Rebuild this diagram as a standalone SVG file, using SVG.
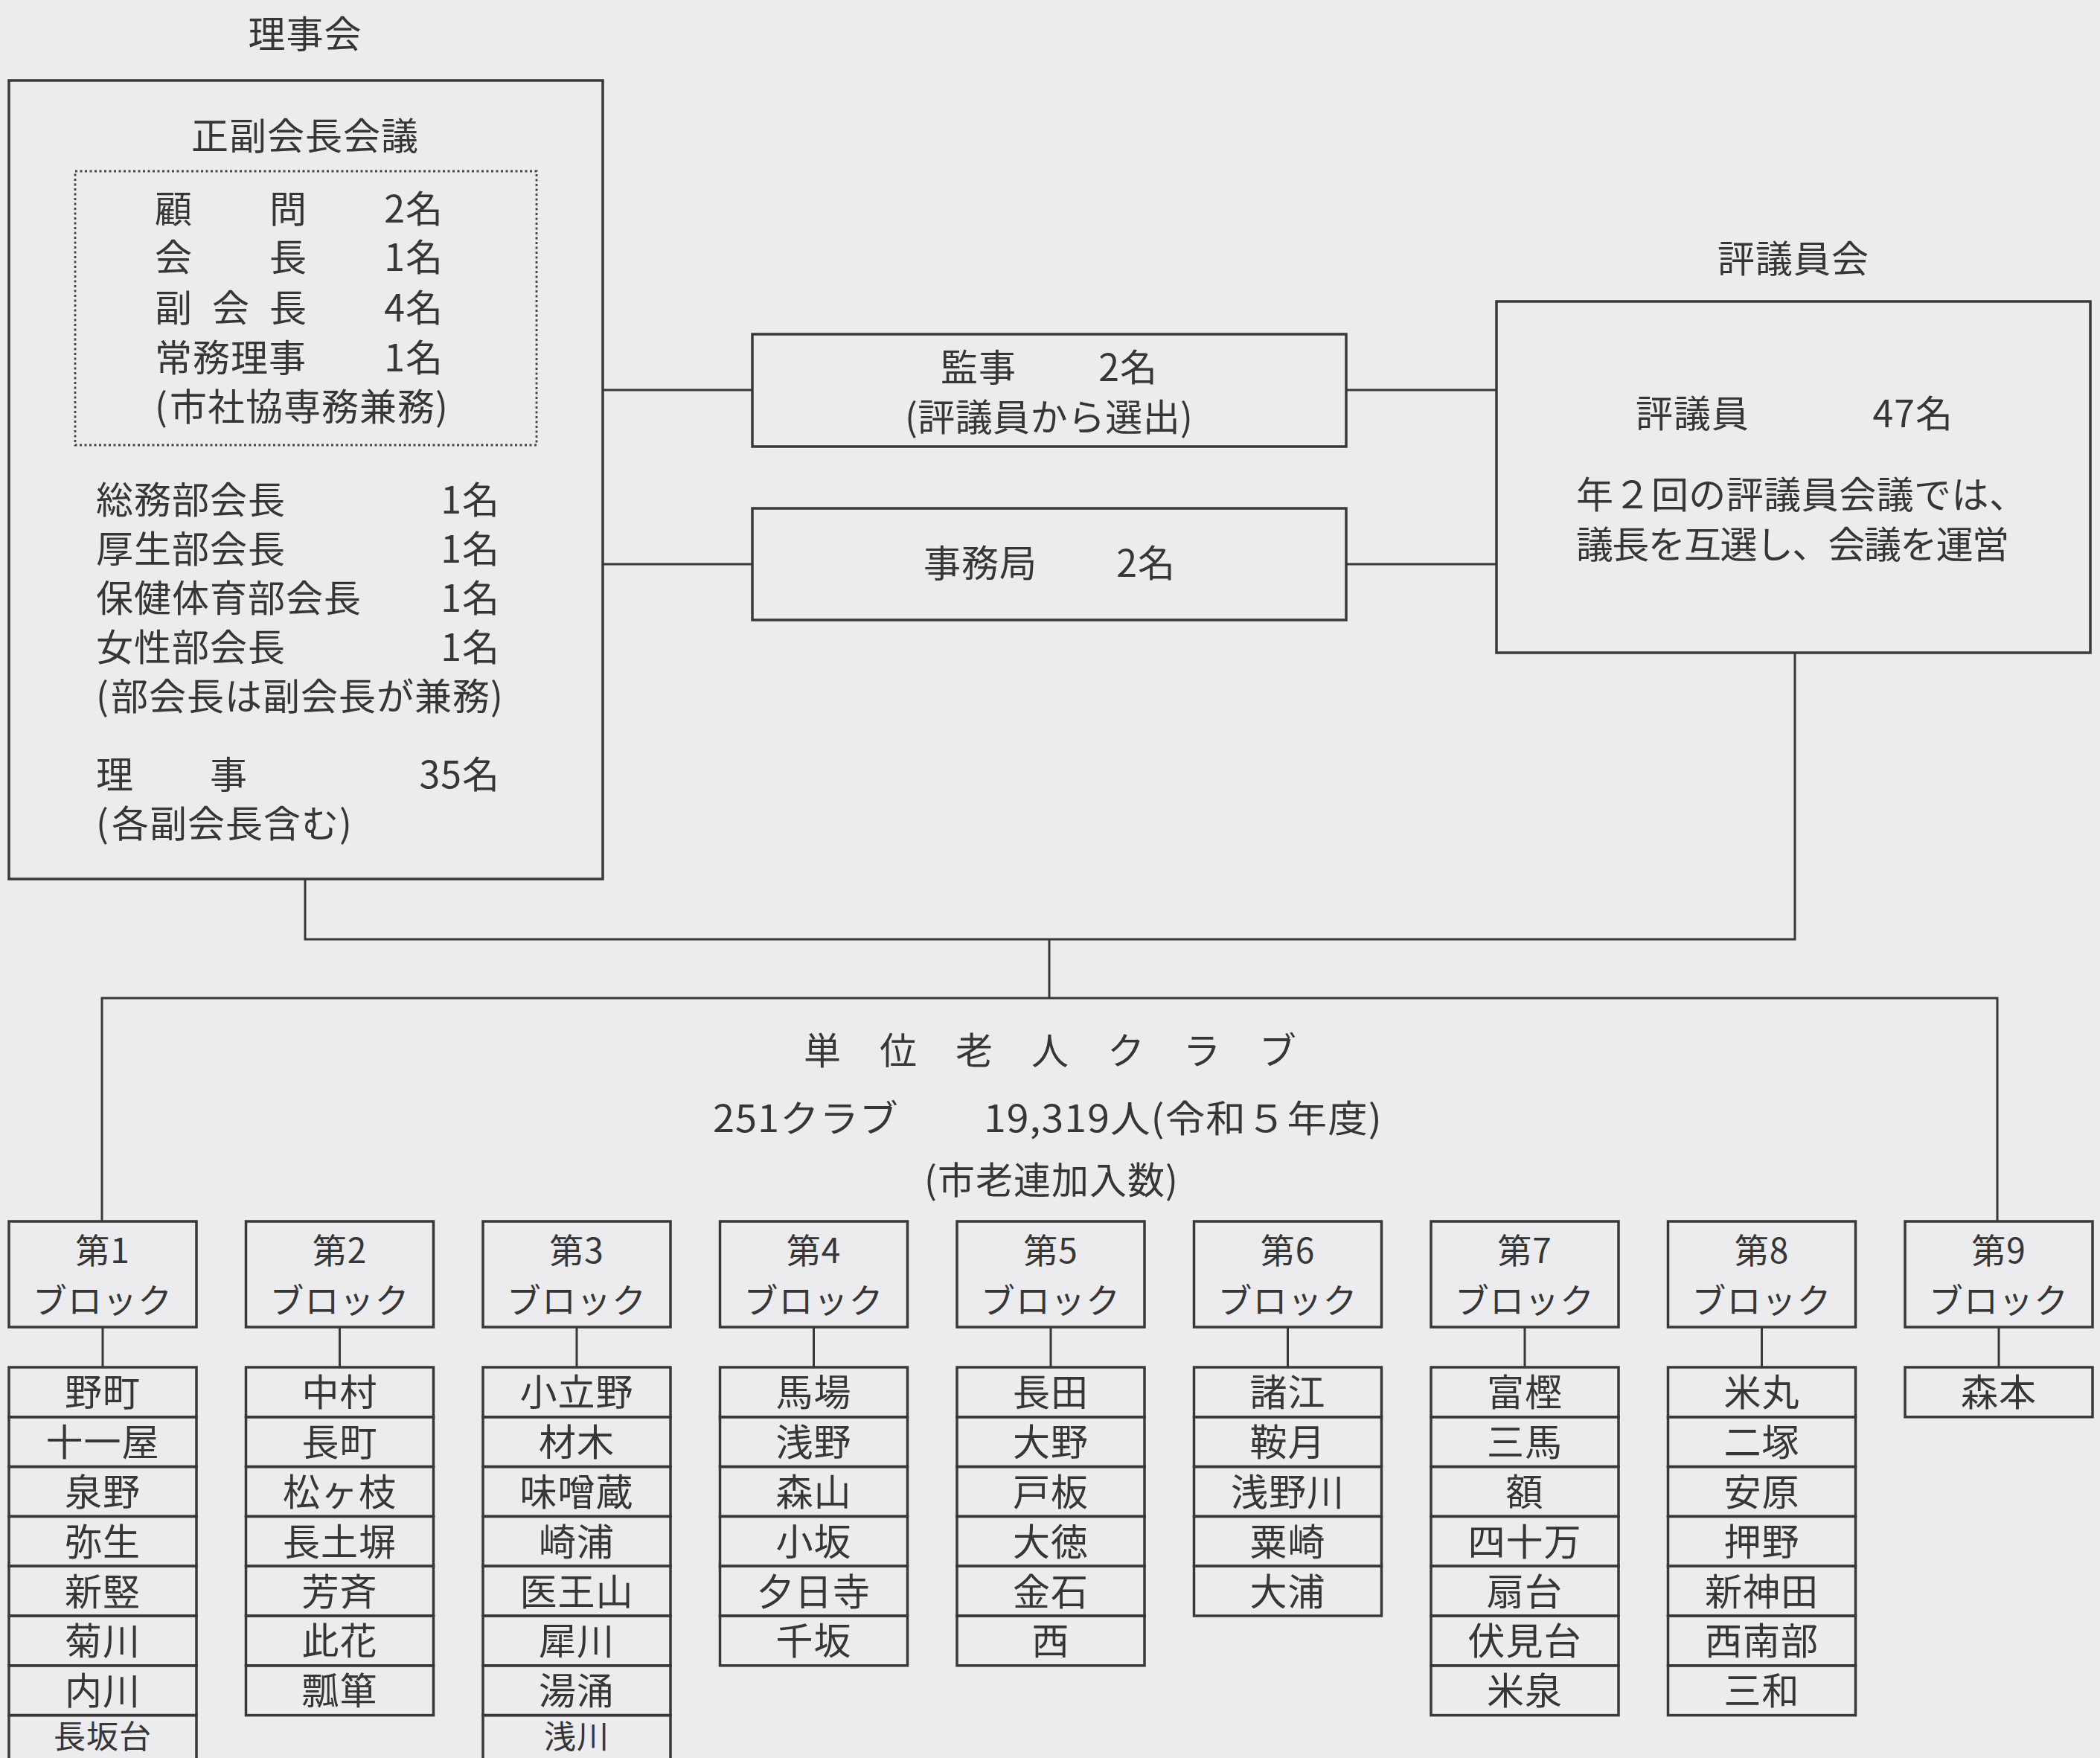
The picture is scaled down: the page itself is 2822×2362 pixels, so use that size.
<svg xmlns="http://www.w3.org/2000/svg" width="2822" height="2362" viewBox="0 0 2822 2362">
<style>
text{font-family:"Noto Sans CJK JP","Noto Sans",sans-serif;fill:#363636;font-size:50px;letter-spacing:1px}
.m{text-anchor:middle}
.e{text-anchor:end}
.bl{font-size:46px;text-anchor:middle}
.last{font-size:43px}
.b{fill:none;stroke:#383838;stroke-width:3.5}
.c{fill:none;stroke:#383838;stroke-width:3}
.d{fill:none;stroke:#444;stroke-width:2.8;stroke-dasharray:3 3.5}
</style>
<rect width="2822" height="2362" fill="#ececef"/>

<g id="connectors">
<path class="c" d="M810 524H1011M810 758H1011M1809 524H2011M1809 758H2011"/>
<path class="c" d="M410 1181V1262H2412V877M1410 1262V1341M137 1641V1341H2684V1641"/>
<path class="c" d="M138 1783V1837M456.5 1783V1837M775 1783V1837M1093.5 1783V1837M1412 1783V1837M1730.5 1783V1837M2049 1783V1837M2367.5 1783V1837M2686 1783V1837"/>
</g>

<g id="rijikai">
<text class="m" x="410" y="64">理事会</text>
<rect class="b" x="12" y="108" width="798" height="1073"/>
<text class="m" x="410" y="201">正副会長会議</text>
<rect class="d" x="101" y="230" width="620" height="368"/>
<text x="208" y="299">顧</text><text x="362" y="299">問</text><text class="e" x="596" y="299">2名</text>
<text x="208" y="364">会</text><text x="362" y="364">長</text><text class="e" x="596" y="364">1名</text>
<text x="208" y="432">副</text><text x="285" y="432">会</text><text x="362" y="432">長</text><text class="e" x="596" y="432">4名</text>
<text x="208" y="499">常務理事</text><text class="e" x="596" y="499">1名</text>
<text x="208" y="565">(<tspan x="228">市社協専務兼務</tspan>)</text>
<text x="129" y="690">総務部会長</text><text class="e" x="672" y="690">1名</text>
<text x="129" y="756">厚生部会長</text><text class="e" x="672" y="756">1名</text>
<text x="129" y="822">保健体育部会長</text><text class="e" x="672" y="822">1名</text>
<text x="129" y="888">女性部会長</text><text class="e" x="672" y="888">1名</text>
<text x="129" y="954">(<tspan x="149">部会長は副会長が兼務</tspan>)</text>
<text x="129" y="1059">理</text><text x="282" y="1059">事</text><text class="e" x="672" y="1059">35名</text>
<text x="129" y="1125">(<tspan x="150">各副会長含む</tspan>)</text>
</g>

<g id="kanji">
<rect class="b" x="1011" y="449" width="798" height="151"/>
<text x="1264" y="512">監事</text><text class="e" x="1556" y="512">2名</text>
<text class="m" x="1410" y="579" textLength="388">(評議員から選出)</text>
</g>

<g id="jimukyoku">
<rect class="b" x="1011" y="683" width="798" height="150"/>
<text x="1241" y="775">事務局</text><text class="e" x="1580" y="775">2名</text>
</g>

<g id="hyogiinkai">
<text class="m" x="2410" y="366">評議員会</text>
<rect class="b" x="2011" y="405" width="798" height="472"/>
<text x="2198" y="574">評議員</text><text class="e" x="2625" y="574">47名</text>
<text x="2118" y="683" textLength="606">年２回の評議員会議では、</text>
<text x="2118" y="750" textLength="583">議長を互選し、会議を運営</text>
</g>

<g id="tani-club">
<text x="1080 1182 1284 1386 1488 1590 1692" y="1430">単位老人クラブ</text>
<text x="958" y="1521" textLength="250" lengthAdjust="spacingAndGlyphs">251クラブ</text>
<text x="1322" y="1521" textLength="536" lengthAdjust="spacingAndGlyphs">19,319人(令和５年度)</text>
<text x="1242" y="1604">(市老連加入数)</text>
</g>

<g id="block1">
<rect class="b" x="12" y="1641" width="252" height="142"/>
<text class="bl" x="138" y="1697">第1</text><text class="bl" x="138" y="1764">ブロック</text>
<rect class="b" x="12" y="1837" width="252" height="66.8"/><text class="m" x="138" y="1889.4">野町</text>
<rect class="b" x="12" y="1903.8" width="252" height="66.8"/><text class="m" x="138" y="1956.2">十一屋</text>
<rect class="b" x="12" y="1970.6" width="252" height="66.8"/><text class="m" x="138" y="2023">泉野</text>
<rect class="b" x="12" y="2037.4" width="252" height="66.8"/><text class="m" x="138" y="2089.8">弥生</text>
<rect class="b" x="12" y="2104.2" width="252" height="66.8"/><text class="m" x="138" y="2156.6">新竪</text>
<rect class="b" x="12" y="2171" width="252" height="66.8"/><text class="m" x="138" y="2223.4">菊川</text>
<rect class="b" x="12" y="2237.8" width="252" height="66.8"/><text class="m" x="138" y="2290.2">内川</text>
<rect class="b" x="12" y="2304.6" width="252" height="66.8"/><text class="m last" x="138" y="2349">長坂台</text>
</g>

<g id="block2">
<rect class="b" x="330.5" y="1641" width="252" height="142"/>
<text class="bl" x="456.5" y="1697">第2</text><text class="bl" x="456.5" y="1764">ブロック</text>
<rect class="b" x="330.5" y="1837" width="252" height="66.8"/><text class="m" x="456.5" y="1889.4">中村</text>
<rect class="b" x="330.5" y="1903.8" width="252" height="66.8"/><text class="m" x="456.5" y="1956.2">長町</text>
<rect class="b" x="330.5" y="1970.6" width="252" height="66.8"/><text class="m" x="456.5" y="2023">松ヶ枝</text>
<rect class="b" x="330.5" y="2037.4" width="252" height="66.8"/><text class="m" x="456.5" y="2089.8">長土塀</text>
<rect class="b" x="330.5" y="2104.2" width="252" height="66.8"/><text class="m" x="456.5" y="2156.6">芳斉</text>
<rect class="b" x="330.5" y="2171" width="252" height="66.8"/><text class="m" x="456.5" y="2223.4">此花</text>
<rect class="b" x="330.5" y="2237.8" width="252" height="66.8"/><text class="m" x="456.5" y="2290.2">瓢箪</text>
</g>

<g id="block3">
<rect class="b" x="649" y="1641" width="252" height="142"/>
<text class="bl" x="775" y="1697">第3</text><text class="bl" x="775" y="1764">ブロック</text>
<rect class="b" x="649" y="1837" width="252" height="66.8"/><text class="m" x="775" y="1889.4">小立野</text>
<rect class="b" x="649" y="1903.8" width="252" height="66.8"/><text class="m" x="775" y="1956.2">材木</text>
<rect class="b" x="649" y="1970.6" width="252" height="66.8"/><text class="m" x="775" y="2023">味噌蔵</text>
<rect class="b" x="649" y="2037.4" width="252" height="66.8"/><text class="m" x="775" y="2089.8">崎浦</text>
<rect class="b" x="649" y="2104.2" width="252" height="66.8"/><text class="m" x="775" y="2156.6">医王山</text>
<rect class="b" x="649" y="2171" width="252" height="66.8"/><text class="m" x="775" y="2223.4">犀川</text>
<rect class="b" x="649" y="2237.8" width="252" height="66.8"/><text class="m" x="775" y="2290.2">湯涌</text>
<rect class="b" x="649" y="2304.6" width="252" height="66.8"/><text class="m last" x="775" y="2349">浅川</text>
</g>

<g id="block4">
<rect class="b" x="967.5" y="1641" width="252" height="142"/>
<text class="bl" x="1093.5" y="1697">第4</text><text class="bl" x="1093.5" y="1764">ブロック</text>
<rect class="b" x="967.5" y="1837" width="252" height="66.8"/><text class="m" x="1093.5" y="1889.4">馬場</text>
<rect class="b" x="967.5" y="1903.8" width="252" height="66.8"/><text class="m" x="1093.5" y="1956.2">浅野</text>
<rect class="b" x="967.5" y="1970.6" width="252" height="66.8"/><text class="m" x="1093.5" y="2023">森山</text>
<rect class="b" x="967.5" y="2037.4" width="252" height="66.8"/><text class="m" x="1093.5" y="2089.8">小坂</text>
<rect class="b" x="967.5" y="2104.2" width="252" height="66.8"/><text class="m" x="1093.5" y="2156.6">夕日寺</text>
<rect class="b" x="967.5" y="2171" width="252" height="66.8"/><text class="m" x="1093.5" y="2223.4">千坂</text>
</g>

<g id="block5">
<rect class="b" x="1286" y="1641" width="252" height="142"/>
<text class="bl" x="1412" y="1697">第5</text><text class="bl" x="1412" y="1764">ブロック</text>
<rect class="b" x="1286" y="1837" width="252" height="66.8"/><text class="m" x="1412" y="1889.4">長田</text>
<rect class="b" x="1286" y="1903.8" width="252" height="66.8"/><text class="m" x="1412" y="1956.2">大野</text>
<rect class="b" x="1286" y="1970.6" width="252" height="66.8"/><text class="m" x="1412" y="2023">戸板</text>
<rect class="b" x="1286" y="2037.4" width="252" height="66.8"/><text class="m" x="1412" y="2089.8">大徳</text>
<rect class="b" x="1286" y="2104.2" width="252" height="66.8"/><text class="m" x="1412" y="2156.6">金石</text>
<rect class="b" x="1286" y="2171" width="252" height="66.8"/><text class="m" x="1412" y="2223.4">西</text>
</g>

<g id="block6">
<rect class="b" x="1604.5" y="1641" width="252" height="142"/>
<text class="bl" x="1730.5" y="1697">第6</text><text class="bl" x="1730.5" y="1764">ブロック</text>
<rect class="b" x="1604.5" y="1837" width="252" height="66.8"/><text class="m" x="1730.5" y="1889.4">諸江</text>
<rect class="b" x="1604.5" y="1903.8" width="252" height="66.8"/><text class="m" x="1730.5" y="1956.2">鞍月</text>
<rect class="b" x="1604.5" y="1970.6" width="252" height="66.8"/><text class="m" x="1730.5" y="2023">浅野川</text>
<rect class="b" x="1604.5" y="2037.4" width="252" height="66.8"/><text class="m" x="1730.5" y="2089.8">粟崎</text>
<rect class="b" x="1604.5" y="2104.2" width="252" height="66.8"/><text class="m" x="1730.5" y="2156.6">大浦</text>
</g>

<g id="block7">
<rect class="b" x="1923" y="1641" width="252" height="142"/>
<text class="bl" x="2049" y="1697">第7</text><text class="bl" x="2049" y="1764">ブロック</text>
<rect class="b" x="1923" y="1837" width="252" height="66.8"/><text class="m" x="2049" y="1889.4">富樫</text>
<rect class="b" x="1923" y="1903.8" width="252" height="66.8"/><text class="m" x="2049" y="1956.2">三馬</text>
<rect class="b" x="1923" y="1970.6" width="252" height="66.8"/><text class="m" x="2049" y="2023">額</text>
<rect class="b" x="1923" y="2037.4" width="252" height="66.8"/><text class="m" x="2049" y="2089.8">四十万</text>
<rect class="b" x="1923" y="2104.2" width="252" height="66.8"/><text class="m" x="2049" y="2156.6">扇台</text>
<rect class="b" x="1923" y="2171" width="252" height="66.8"/><text class="m" x="2049" y="2223.4">伏見台</text>
<rect class="b" x="1923" y="2237.8" width="252" height="66.8"/><text class="m" x="2049" y="2290.2">米泉</text>
</g>

<g id="block8">
<rect class="b" x="2241.5" y="1641" width="252" height="142"/>
<text class="bl" x="2367.5" y="1697">第8</text><text class="bl" x="2367.5" y="1764">ブロック</text>
<rect class="b" x="2241.5" y="1837" width="252" height="66.8"/><text class="m" x="2367.5" y="1889.4">米丸</text>
<rect class="b" x="2241.5" y="1903.8" width="252" height="66.8"/><text class="m" x="2367.5" y="1956.2">二塚</text>
<rect class="b" x="2241.5" y="1970.6" width="252" height="66.8"/><text class="m" x="2367.5" y="2023">安原</text>
<rect class="b" x="2241.5" y="2037.4" width="252" height="66.8"/><text class="m" x="2367.5" y="2089.8">押野</text>
<rect class="b" x="2241.5" y="2104.2" width="252" height="66.8"/><text class="m" x="2367.5" y="2156.6">新神田</text>
<rect class="b" x="2241.5" y="2171" width="252" height="66.8"/><text class="m" x="2367.5" y="2223.4">西南部</text>
<rect class="b" x="2241.5" y="2237.8" width="252" height="66.8"/><text class="m" x="2367.5" y="2290.2">三和</text>
</g>

<g id="block9">
<rect class="b" x="2560" y="1641" width="252" height="142"/>
<text class="bl" x="2686" y="1697">第9</text><text class="bl" x="2686" y="1764">ブロック</text>
<rect class="b" x="2560" y="1837" width="252" height="66.8"/><text class="m" x="2686" y="1889.4">森本</text>
</g>
</svg>
